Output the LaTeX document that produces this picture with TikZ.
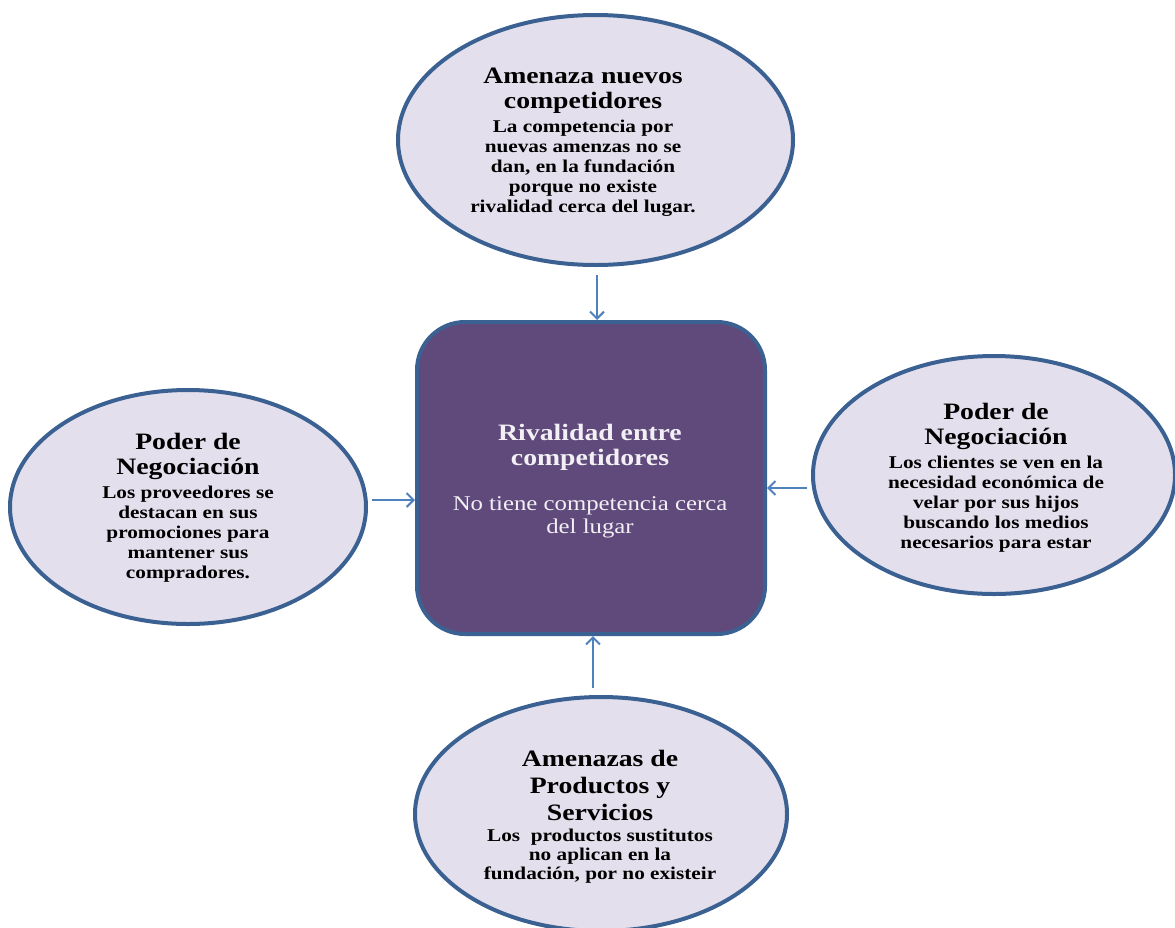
\documentclass[tikz,border=0pt]{standalone}
\usepackage{fontspec}
\setmainfont{Liberation Serif}[FakeStretch=1.18]
\usetikzlibrary{arrows.meta,shapes.geometric}
\definecolor{ellfill}{HTML}{E4DFEC}
\definecolor{edgeblue}{HTML}{3B6192}
\definecolor{boxfill}{HTML}{604A7B}
\definecolor{arrowblue}{HTML}{4F81BD}
\newcommand{\ttlfont}{\fontsize{23.5}{25}\selectfont\bfseries}
\newcommand{\bdyfont}{\fontsize{18}{20}\selectfont\bfseries}
\tikzset{
  force/.style={ellipse, draw=edgeblue, line width=4pt, fill=ellfill, inner sep=0pt},
  core/.style={draw=edgeblue, line width=4pt, fill=boxfill, rounded corners=48pt, inner sep=0pt},
  ttl/.style={align=center, inner sep=0pt, text=black, font=\ttlfont},
  bdy/.style={align=center, inner sep=0pt, text=black, font=\bdyfont},
  conn/.style={draw=arrowblue, line width=2pt, -{Straight Barb[length=7pt,width=14pt,line width=2pt]}}
}
\begin{document}
\begin{tikzpicture}[x=1pt,y=-1pt]
\useasboundingbox (0,0) rectangle (1175,927);
\node[force, minimum width=395pt, minimum height=250pt] (top) at (595.5,140) {};
\node[force, minimum width=356pt, minimum height=234pt] (left) at (188,507) {};
\node[force, minimum width=362pt, minimum height=238pt] (right) at (994,475) {};
\node[force, minimum width=372pt, minimum height=234pt] (bot) at (601,814) {};
\node[core, minimum width=348pt, minimum height=312pt] (ctr) at (591,478) {};
% top
\node[ttl] (ttop) at (583,91) {Amenaza nuevos\\competidores};
\node[bdy] (btop) at (583,168) {La competencia por\\nuevas amenzas no se\\dan, en la fundación\\porque no existe\\rivalidad cerca del lugar.};
% left
\node[ttl] (tleft) at (188,456) {Poder de\\Negociación};
\node[bdy] (bleft) at (188,534) {Los proveedores se\\destacan en sus\\promociones para\\mantener sus\\compradores.};
% right
\node[ttl] (tright) at (996,426) {Poder de\\Negociación};
\node[bdy] (bright) at (996,504) {Los clientes se ven en la\\necesidad económica de\\velar por sus hijos\\buscando los medios\\necesarios para estar};
% bottom
\node[ttl, font=\fontsize{23.5}{27}\selectfont\bfseries] (tbot) at (600,785) {Amenazas de\\Productos y\\Servicios};
\node[bdy, font=\fontsize{18}{19}\selectfont\bfseries] (bbot) at (600,856) {Los \ productos sustitutos\\no aplican en la\\fundación, por no existeir};
% center
\node[align=center, inner sep=0pt, text=white!92!boxfill, font=\fontsize{23.5}{25}\selectfont\bfseries] (tctr) at (590,447) {Rivalidad entre\\competidores};
\node[align=center, inner sep=0pt, text=white!92!boxfill, font=\fontsize{21}{23}\selectfont] (bctr) at (590,517) {No tiene competencia cerca\\del lugar};
% connectors
\coordinate (a1) at (597,275);
\coordinate (a2) at (372,500);
\coordinate (a3) at (807,488);
\coordinate (a4) at (593,688);
\draw[conn] (a1) -- (ctr.north -| a1);
\draw[conn] (a2) -- (ctr.west |- a2);
\draw[conn] (a3) -- (ctr.east |- a3);
\draw[conn] (a4) -- (ctr.south -| a4);
\end{tikzpicture}
\end{document}
